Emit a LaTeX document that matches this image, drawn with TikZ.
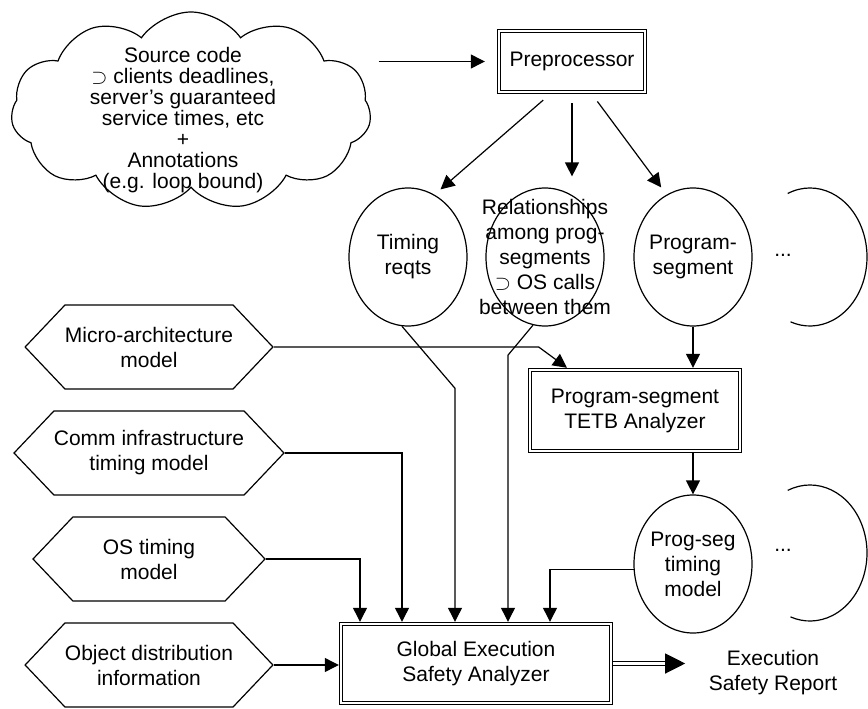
\documentclass[tikz,border=0pt]{standalone}
\usepackage{fontspec}
\setmainfont{Liberation Sans}
\usepackage{amsmath, amssymb}
\usetikzlibrary{arrows.meta, positioning, shapes.geometric, shapes.symbols, calc}

\begin{document}
\begin{tikzpicture}[x=1pt, y=-1pt, line width=1.2pt,
    font=\fontsize{21}{25}\selectfont,
    arr/.style={-{Triangle[length=14pt,width=14pt]}},
    dblbox/.style={draw, double, double distance=2pt, outer sep=2.2pt, inner sep=0pt, align=center},
    oval/.style={draw, ellipse, minimum width=118pt, minimum height=138pt, inner sep=0pt},
    hexa/.style={draw, signal, signal to=east and west, signal pointer angle=93, minimum width=232pt, minimum height=84pt, inner sep=0pt, align=center}]
    \useasboundingbox (0,0) rectangle (868,709);

    % Source cloud and preprocessor
    \node[draw, cloud, cloud puffs=11, cloud puff arc=110, cloud ignores aspect, minimum width=360pt, minimum height=198pt] (src) at (191,111) {};
    \node[align=center, font=\fontsize{21}{21}\selectfont] (src_txt) at (183,120) {Source code\\$\supset$ clients deadlines,\\server’s guaranteed\\service times, etc\\+\\Annotations\\(e.g. loop bound)};
    \node[dblbox, minimum width=146pt, minimum height=61pt] (prep) at (572,61.5) {Preprocessor};

    % Outputs of the preprocessor
    \node[oval] (timing) at (408,257) {};
    \node[align=center] (timing_txt) at (timing) {Timing\\reqts};
    \node[oval] (rel) at (545,257) {};
    \node[align=center] (rel_txt) at (rel) {Relationships\\among prog-\\segments\\$\supset$ OS calls\\between them};
    \node[oval] (prog) at (693,257) {};
    \node[align=center] (prog_txt) at (prog) {Program-\\segment};
    \node (dots_a) at (783,255) {...};
    \draw (810,257) ++(-113:57 and 69) arc[start angle=-113, end angle=110, x radius=57, y radius=69];

    % Segment analyzer and its model
    \node[dblbox, minimum width=210pt, minimum height=81pt] (tetb) at (635,410.5) {Program-segment\\TETB Analyzer};
    \node[oval] (pseg) at (693,564) {};
    \node[align=center] (pseg_txt) at (pseg) {Prog-seg\\timing\\model};
    \node (dots_b) at (783,550) {...};
    \draw (810,553) ++(-113:57 and 68) arc[start angle=-113, end angle=110, x radius=57, y radius=68];

    % Global analyzer and report
    \node[dblbox, minimum width=270pt, minimum height=79pt] (glob) at (476,663.5) {Global Execution\\Safety Analyzer};
    \node[align=center, inner sep=0pt] (report) at (773,673) {Execution\\Safety Report};

    % Models on the left
    \node[hexa] (micro) at (149,347) {Micro-architecture\\model};
    \node[hexa] (comm) at (149,453) {Comm infrastructure\\timing model};
    \node[hexa] (os) at (149,559) {OS timing\\model};
    \node[hexa] (obj) at (149,665) {Object distribution\\information};

    % Connectors
    \draw[arr, shorten <=8pt, shorten >=12pt] (src.east |- prep.west) -- (prep.west);
    \draw[arr, shorten <=9pt, shorten >=8pt] ([xshift=-22pt]prep.south) -- (timing.67);
    \draw[arr, shorten <=9pt, shorten >=11pt] (prep.south) -- (prep.south |- rel.north);
    \draw[arr, shorten <=9pt, shorten >=9pt] ([xshift=20pt]prep.south) -- (prog.113);
    \draw[arr] (micro.east) -- ++(265,0) -- ([xshift=-68pt]tetb.north);
    \draw[arr] (prog.south) -- (prog.south |- tetb.north);
    \draw[arr] (tetb.south -| pseg.north) -- (pseg.north);
    \draw[arr] (timing.265) -- ++(53,62) -- ([xshift=-21pt]glob.north);
    \draw[arr] (rel.260) -- ++(-25,30) -- ([xshift=32pt]glob.north);
    \draw[arr] (comm.east) -| ([xshift=-74pt]glob.north);
    \draw[arr] (os.east) -| ([xshift=-116pt]glob.north);
    \draw[arr] (obj.east) -- (obj.east -| glob.west);
    \draw[arr] (pseg.185) -| ([xshift=74pt]glob.north);
    \draw[double, double distance=3pt, -{Triangle[length=20pt,width=20pt]}, shorten >=23pt] (glob.east) -- (glob.east -| report.west);
\end{tikzpicture}
\end{document}
